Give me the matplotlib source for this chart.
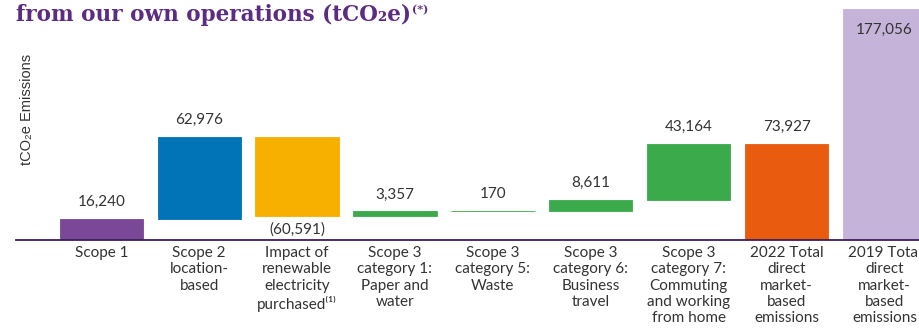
import matplotlib
matplotlib.use("Agg")
import matplotlib.pyplot as plt

# Emission components (tCO2e)
categories = [
    "Scope 1",
    "Scope 2\nlocation-\nbased",
    "Impact of\nrenewable\nelectricity\npurchased⁽¹⁾",
    "Scope 3\ncategory 1:\nPaper and\nwater",
    "Scope 3\ncategory 5:\nWaste",
    "Scope 3\ncategory 6:\nBusiness\ntravel",
    "Scope 3\ncategory 7:\nCommuting\nand working\nfrom home",
    "2022 Total\ndirect\nmarket-\nbased\nemissions",
    "2019 Total\ndirect\nmarket-\nbased\nemissions",
]
steps = [16240, 62976, -60591, 3357, 170, 8611, 43164]
totals = [73927, 177056]
value_labels = ["16,240", "62,976", "(60,591)", "3,357", "170", "8,611",
                "43,164", "73,927", "177,056"]
colors = ["#7A4896", "#0174B7", "#F8B000", "#3AAA4B", "#3AAA4B",
          "#3AAA4B", "#3AAA4B", "#E95C0F", "#C5B3D9"]

# Waterfall geometry: floating steps, then totals from zero
bottoms, heights = [], []
running = 0
for s in steps:
    if s >= 0:
        bottoms.append(running)
        heights.append(s)
    else:
        bottoms.append(running + s)
        heights.append(-s)
    running += s
for t in totals:
    bottoms.append(0)
    heights.append(t)

W, H = 919, 330
fig = plt.figure(figsize=(W / 100, H / 100), dpi=100)
ax = fig.add_axes([16 / W, 90 / H, (W - 16) / W, 240 / H])

x = list(range(len(categories)))
ax.bar(x, heights, bottom=bottoms, width=0.85, color=colors,
       edgecolor=colors, linewidth=0.6, clip_on=True)

ax.set_xlim(-0.871, 8.352)
ax.set_ylim(0, 184100)

text_color = "#333333"
label_font = "Lato"
for i, lab in enumerate(value_labels):
    top = bottoms[i] + heights[i]
    if i < len(steps) and steps[i] < 0:
        ax.annotate(lab, (i, bottoms[i]), xytext=(0, -5), textcoords="offset points",
                    ha="center", va="top", fontsize=11, color=text_color,
                    family=label_font)
    elif i == len(categories) - 1:
        ax.annotate(lab, (i, top), xytext=(0, -10), textcoords="offset points",
                    ha="center", va="top", fontsize=11, color=text_color,
                    family=label_font)
    else:
        ax.annotate(lab, (i, top), xytext=(0, 7), textcoords="offset points",
                    ha="center", va="bottom", fontsize=11, color=text_color,
                    family=label_font)

ax.set_xticks(x)
ax.set_xticklabels(categories, fontsize=11, color=text_color, family=label_font,
                   linespacing=1.2)
ax.tick_params(axis="x", length=0, pad=4.5)
ax.set_yticks([])
for side in ["top", "right", "left"]:
    ax.spines[side].set_visible(False)
ax.spines["bottom"].set_color("#3B1E5C")
ax.spines["bottom"].set_linewidth(1.3)
ax.patch.set_alpha(0)

# Axis title
fig.text(27 / W, 1 - 109 / H, "tCO₂e Emissions", rotation=90, ha="center",
         va="center", fontsize=10.5, color=text_color,
         family=["Liberation Sans", "DejaVu Sans"])

# Chart title
title_color = "#5C2C82"
t = fig.text(16 / W, 1 - 21 / H, "from our own operations (tCO₂e)", ha="left",
             va="baseline", fontsize=15.5, fontweight="bold", color=title_color,
             family=["DejaVu Serif"])
fig.canvas.draw()
bb = t.get_window_extent()
fig.text((bb.x1 + 1) / W, (bb.y1 - 9) / H, "(*)", fontsize=8, fontweight="bold",
         color=title_color, family=["DejaVu Serif"])

fig.savefig("out.png", dpi=100)
